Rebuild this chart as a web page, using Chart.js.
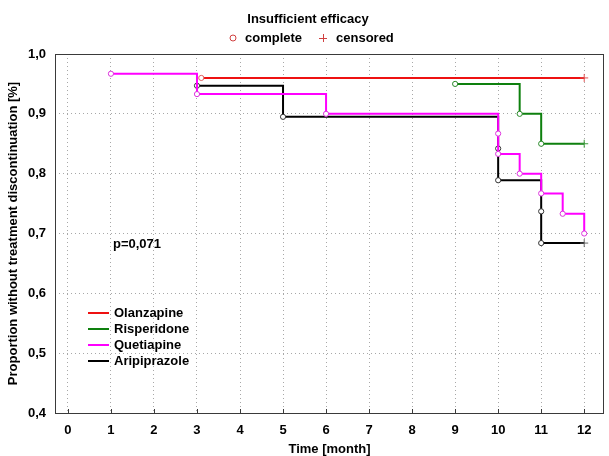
<!DOCTYPE html>
<html>
<head>
<meta charset="utf-8">
<script src="https://cdn.jsdelivr.net/npm/chart.js@4.4.1/dist/chart.umd.min.js"></script>
<style>
  html, body { margin: 0; padding: 0; background: #fff; }
  #wrap { width: 609px; height: 456px; }
</style>
</head>
<body>
<div id="wrap"><canvas id="km"></canvas></div>
<script>
// Kaplan-Meier data (time in months, proportion, censored flag)
const olanzTime = [3.1, 12];
const olanzSurv = [0.96, 0.96];
const olanzCens = [0, 1];

const risperTime = [9, 10.5, 11, 12];
const risperSurv = [0.95, 0.9, 0.85, 0.85];
const risperCens = [0, 0, 0, 1];

const quetTime = [1, 3, 6, 10, 10, 10.5, 11, 11.5, 12];
const quetSurv = [0.967, 0.933, 0.9, 0.867, 0.833, 0.8, 0.767, 0.733, 0.7];
const quetCens = [0, 0, 0, 0, 0, 0, 0, 0, 0];

const aripTime = [3, 5, 10, 10, 11, 11, 12];
const aripSurv = [0.947, 0.895, 0.842, 0.789, 0.737, 0.684, 0.684];
const aripCens = [0, 0, 0, 0, 0, 0, 1];

const xTicks = [0, 1, 2, 3, 4, 5, 6, 7, 8, 9, 10, 11, 12];
const yTicks = [0.4, 0.5, 0.6, 0.7, 0.8, 0.9, 1.0];
const drugNames = ['Olanzapine', 'Risperidone', 'Quetiapine', 'Aripiprazole'];

const FONT = '"Liberation Sans", Arial, sans-serif';

function makeSet(label, times, surv, cens, color, markColor, crossColor) {
    return {
        label: label,
        data: times.map((t, i) => ({x: t, y: surv[i]})),
        borderColor: color,
        borderWidth: 2,
        stepped: 'before',
        fill: false,
        pointStyle: cens.map(c => c ? 'cross' : 'circle'),
        pointRadius: cens.map(c => c ? 4 : 2.6),
        pointBorderWidth: 1,
        pointBorderColor: cens.map(c => c ? crossColor : markColor),
        pointBackgroundColor: '#ffffff'
    };
}

// frame, header, in-plot legend and p value
const extras = {
    id: 'extras',
    afterDraw(chart) {
        const ctx = chart.ctx;
        const a = chart.chartArea;
        const xs = chart.scales.x;
        ctx.save();
        ctx.strokeStyle = '#3a3a3a';
        ctx.lineWidth = 1;
        ctx.strokeRect(a.left + 0.5, a.top + 0.5, a.right - a.left - 1, a.bottom - a.top);
        // short inward ticks on the time axis
        ctx.beginPath();
        xTicks.forEach(v => {
            const px = Math.round(xs.getPixelForValue(v)) + 0.5;
            ctx.moveTo(px, a.bottom);
            ctx.lineTo(px, a.bottom - 4);
        });
        ctx.stroke();

        ctx.fillStyle = '#000';
        ctx.font = 'bold 13px ' + FONT;
        ctx.textBaseline = 'middle';
        ctx.textAlign = 'center';
        ctx.fillText('Insufficient efficacy', 308, 19);
        ctx.textAlign = 'left';
        ctx.fillText('complete', 245, 38);
        ctx.fillText('censored', 336, 38);
        ctx.strokeStyle = '#d04040';
        ctx.beginPath();
        ctx.arc(233, 38, 3, 0, Math.PI * 2);
        ctx.stroke();
        ctx.beginPath();
        ctx.moveTo(319, 38.5); ctx.lineTo(327, 38.5);
        ctx.moveTo(323.5, 34); ctx.lineTo(323.5, 42);
        ctx.stroke();

        ctx.fillStyle = '#000';
        ctx.fillText('p=0,071', 113, 244);

        chart.data.datasets.forEach((ds, i) => {
            const y = 313 + i * 16;
            ctx.strokeStyle = ds.borderColor;
            ctx.lineWidth = 2;
            ctx.beginPath();
            ctx.moveTo(88, y); ctx.lineTo(109, y);
            ctx.stroke();
            ctx.fillStyle = '#000';
            ctx.fillText(drugNames[i], 114, y);
        });
        ctx.restore();
    }
};

const ctx = document.getElementById('km').getContext('2d');
new Chart(ctx, {
    type: 'line',
    data: {
        datasets: [
            makeSet('Olanzapine', olanzTime, olanzSurv, olanzCens, '#ee1111', '#e06060', '#e05050'),
            makeSet('Risperidone', risperTime, risperSurv, risperCens, '#0e800e', '#2a8a2a', '#3a9a3a'),
            makeSet('Quetiapine', quetTime, quetSurv, quetCens, '#ff00ff', '#dd33dd', '#dd33dd'),
            makeSet('Aripiprazole', aripTime, aripSurv, aripCens, '#000000', '#333333', '#666666')
        ]
    },
    options: {
        responsive: true,
        maintainAspectRatio: false,
        animation: false,
        layout: { padding: { top: 54, right: 1, left: 0, bottom: 0 } },
        plugins: {
            legend: { display: false },
            tooltip: { enabled: false }
        },
        scales: {
            x: {
                type: 'linear',
                min: -0.3,
                max: 12.46,
                afterBuildTicks: s => { s.ticks = xTicks.map(v => ({value: v})); },
                afterFit: s => { s.height = 43; },
                border: { display: false, dash: [1, 3] },
                grid: { color: '#a8a8a8', drawTicks: false },
                ticks: {
                    padding: 10,
                    color: '#000',
                    font: { family: FONT, size: 13, weight: 'bold' },
                    callback: v => String(v)
                },
                title: {
                    display: true,
                    text: 'Time [month]',
                    color: '#000',
                    font: { family: FONT, size: 13, weight: 'bold' },
                    padding: { top: 0, bottom: -1 }
                }
            },
            y: {
                min: 0.4,
                max: 1.0,
                afterBuildTicks: s => { s.ticks = yTicks.map(v => ({value: v})); },
                afterFit: s => { s.width = 55; },
                border: { display: false, dash: [1, 3] },
                grid: { color: '#a8a8a8', drawTicks: false },
                ticks: {
                    padding: 9,
                    color: '#000',
                    font: { family: FONT, size: 13, weight: 'bold' },
                    callback: v => v.toFixed(1).replace('.', ',')
                },
                title: {
                    display: true,
                    text: 'Proportion without treatment discontinuation [%]',
                    color: '#000',
                    font: { family: FONT, size: 13, weight: 'bold' },
                    padding: { top: 6, bottom: 0 }
                }
            }
        }
    },
    plugins: [extras]
});
</script>
</body>
</html>
